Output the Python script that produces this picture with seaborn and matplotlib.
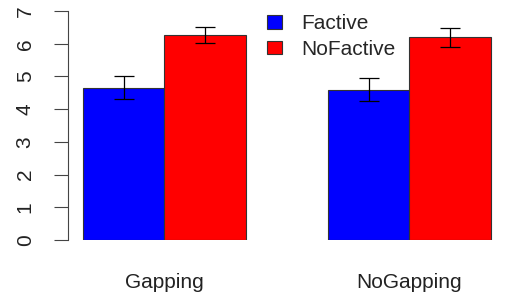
import pandas as pd
import seaborn as sns
from matplotlib import pyplot as plt

# values
groups = ['Gapping', 'NoGapping']
conditions = ['Factive', 'NoFactive']
means = {'Factive': [4.65, 4.60], 'NoFactive': [6.27, 6.19]}
errors = {'Factive': [0.35, 0.35], 'NoFactive': [0.24, 0.29]}
yticks = [0, 1, 2, 3, 4, 5, 6, 7]

df = pd.DataFrame({
    'group': [g for c in conditions for g in groups],
    'condition': [c for c in conditions for g in groups],
    'mean': [m for c in conditions for m in means[c]],
})

sns.set_style('white')
plt.rcParams['font.family'] = ['Liberation Sans', 'DejaVu Sans']

fig = plt.figure(figsize=(5.11, 2.97), dpi=100)
ax = fig.add_axes([68 / 511, 57 / 297, 432 / 511, 229 / 297])

sns.barplot(data=df, x='group', y='mean', hue='condition', order=groups,
            hue_order=conditions, palette=['#0000ff', '#ff0000'],
            width=2 / 3, errorbar=None, edgecolor='#333333', linewidth=0.8,
            saturation=1, ax=ax)

# error bars on top of each bar
for cont, cond in zip(ax.containers, conditions):
    for bar, err in zip(cont, errors[cond]):
        x = bar.get_x() + bar.get_width() / 2
        ax.errorbar(x, bar.get_height(), yerr=err, color='black', lw=0.9,
                    capsize=7, capthick=0.9)

ax.set_xlim(-0.394, 1.37)
ax.set_ylim(0, 7)
ax.set_yticks(yticks)
ax.set_yticklabels([str(t) for t in yticks], rotation=90, va='center')
ax.tick_params(axis='y', length=10, width=0.8, color='#444444', pad=14,
               labelsize=15, labelcolor='#222222', left=True)
ax.tick_params(axis='x', length=0, pad=24, labelsize=15, labelcolor='#222222')
ax.set_xlabel('')
ax.set_ylabel('')
for s in ['top', 'right', 'bottom']:
    ax.spines[s].set_visible(False)
ax.spines['left'].set_color('#444444')
ax.spines['left'].set_linewidth(0.8)

handles, labels = ax.get_legend_handles_labels()
ax.legend(handles, labels, loc='upper left', frameon=False, fontsize=15,
          handlelength=0.72, handleheight=0.6, handletextpad=0.9,
          labelspacing=0.3, borderpad=0,
          bbox_to_anchor=(257 / 511, 1 - 4 / 297), bbox_transform=fig.transFigure)

fig.savefig('out.png', dpi=100)
